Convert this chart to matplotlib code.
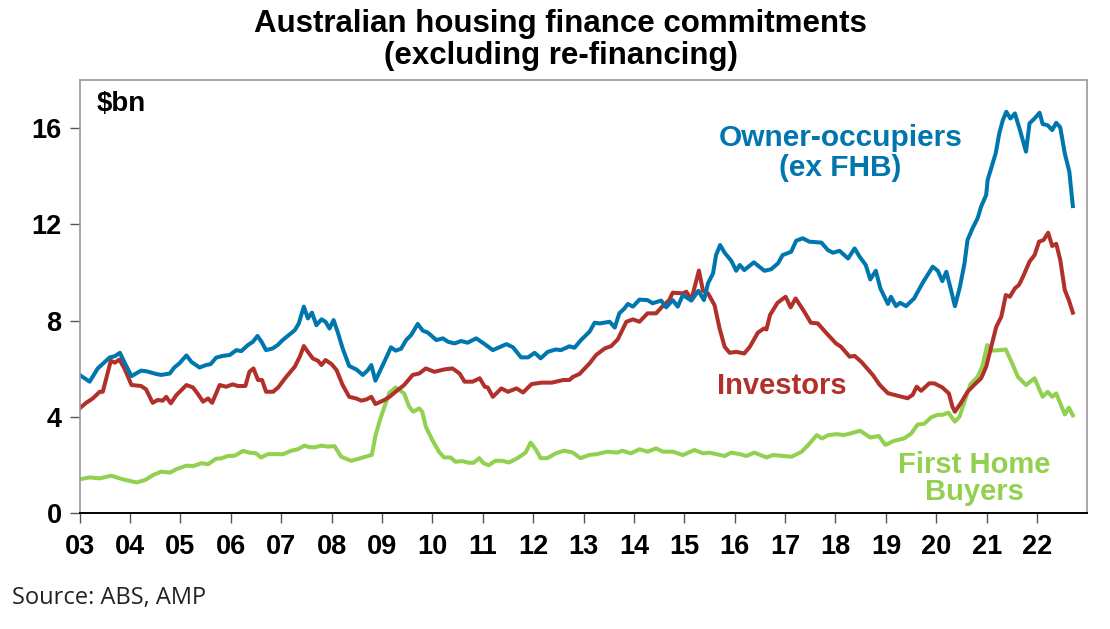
import matplotlib.pyplot as plt

# values, (decimal year, $bn)
owner = [
    (2003.0, 5.74), (2003.2, 5.46), (2003.36, 6.01), (2003.6, 6.47), (2003.7, 6.52), (2003.8, 6.66),
    (2003.9, 6.22), (2004.03, 5.69), (2004.22, 5.92), (2004.33, 5.89), (2004.52, 5.78), (2004.62, 5.74),
    (2004.79, 5.8), (2004.88, 6.05), (2004.98, 6.22), (2005.12, 6.55), (2005.22, 6.28), (2005.38, 6.05),
    (2005.51, 6.15), (2005.6, 6.19), (2005.71, 6.46), (2005.84, 6.53), (2005.98, 6.57), (2006.11, 6.77),
    (2006.21, 6.73), (2006.34, 6.98), (2006.44, 7.12), (2006.53, 7.36), (2006.61, 7.12), (2006.7, 6.77),
    (2006.83, 6.84), (2006.93, 6.98), (2007.03, 7.19), (2007.13, 7.36), (2007.27, 7.6), (2007.35, 7.88),
    (2007.45, 8.58), (2007.53, 8.09), (2007.61, 8.33), (2007.7, 7.81), (2007.8, 8.05), (2007.88, 7.95),
    (2007.96, 7.67), (2008.04, 8.02), (2008.13, 7.47), (2008.22, 6.84), (2008.35, 6.11), (2008.49, 5.97),
    (2008.62, 5.74), (2008.72, 5.94), (2008.79, 6.15), (2008.87, 5.5), (2009.05, 6.3), (2009.18, 6.89),
    (2009.27, 6.75), (2009.38, 6.83), (2009.48, 7.19), (2009.58, 7.4), (2009.71, 7.86), (2009.81, 7.58),
    (2009.91, 7.5), (2010.08, 7.19), (2010.21, 7.26), (2010.31, 7.12), (2010.44, 7.05), (2010.57, 7.15),
    (2010.7, 7.08), (2010.87, 7.26), (2011.04, 7.02), (2011.2, 6.77), (2011.33, 6.89), (2011.47, 7.02),
    (2011.6, 6.89), (2011.76, 6.47), (2011.9, 6.47), (2012.03, 6.66), (2012.15, 6.43), (2012.29, 6.7),
    (2012.45, 6.8), (2012.55, 6.77), (2012.72, 6.93), (2012.82, 6.87), (2012.95, 7.19), (2013.12, 7.54),
    (2013.22, 7.91), (2013.32, 7.88), (2013.52, 7.95), (2013.62, 7.71), (2013.71, 8.3), (2013.81, 8.5),
    (2013.88, 8.69), (2013.98, 8.58), (2014.11, 8.87), (2014.27, 8.85), (2014.37, 8.72), (2014.54, 8.83),
    (2014.64, 8.55), (2014.77, 8.85), (2014.87, 8.58), (2014.97, 9.06), (2015.14, 8.83), (2015.28, 9.24),
    (2015.39, 8.85), (2015.47, 9.55), (2015.57, 9.96), (2015.63, 10.72), (2015.71, 11.14), (2015.8, 10.82),
    (2015.93, 10.49), (2016.03, 10.07), (2016.1, 10.31), (2016.19, 10.1), (2016.38, 10.42), (2016.59, 10.07),
    (2016.72, 10.13), (2016.86, 10.38), (2016.95, 10.72), (2017.12, 10.86), (2017.22, 11.32), (2017.35, 11.42),
    (2017.48, 11.28), (2017.72, 11.24), (2017.85, 10.93), (2017.95, 10.82), (2018.08, 10.9), (2018.25, 10.58),
    (2018.38, 11.0), (2018.48, 10.65), (2018.6, 10.31), (2018.69, 9.71), (2018.8, 10.07), (2018.89, 9.34),
    (2019.04, 8.69), (2019.1, 8.99), (2019.2, 8.6), (2019.28, 8.74), (2019.4, 8.6), (2019.56, 8.92),
    (2019.73, 9.57), (2019.93, 10.24), (2020.03, 10.07), (2020.12, 9.64), (2020.2, 10.03), (2020.3, 9.2),
    (2020.37, 8.6), (2020.47, 9.41), (2020.56, 10.38), (2020.62, 11.35), (2020.72, 11.84), (2020.82, 12.25),
    (2020.89, 12.74), (2020.99, 13.22), (2021.02, 13.85), (2021.09, 14.33), (2021.18, 14.96), (2021.25, 15.78),
    (2021.32, 16.33), (2021.39, 16.68), (2021.47, 16.4), (2021.56, 16.61), (2021.66, 15.92), (2021.78, 15.02),
    (2021.85, 16.2), (2021.95, 16.4), (2022.05, 16.64), (2022.11, 16.17), (2022.21, 16.12), (2022.3, 15.92),
    (2022.38, 16.22), (2022.46, 16.03), (2022.55, 14.95), (2022.64, 14.19), (2022.71, 12.76),
]

investors = [
    (2003.0, 4.35), (2003.13, 4.58), (2003.26, 4.76), (2003.4, 5.04), (2003.46, 5.04), (2003.62, 6.33),
    (2003.7, 6.25), (2003.79, 6.38), (2003.89, 6.01), (2004.03, 5.32), (2004.22, 5.28), (2004.32, 5.14),
    (2004.45, 4.58), (2004.55, 4.7), (2004.65, 4.67), (2004.72, 4.83), (2004.81, 4.56), (2004.92, 4.9),
    (2005.12, 5.32), (2005.25, 5.22), (2005.35, 4.94), (2005.45, 4.63), (2005.55, 4.76), (2005.63, 4.58),
    (2005.78, 5.32), (2005.91, 5.25), (2006.04, 5.35), (2006.14, 5.28), (2006.29, 5.28), (2006.37, 5.87),
    (2006.45, 6.01), (2006.54, 5.53), (2006.62, 5.53), (2006.7, 5.04), (2006.84, 5.04), (2006.94, 5.22),
    (2007.1, 5.66), (2007.27, 6.08), (2007.37, 6.5), (2007.45, 6.94), (2007.53, 6.7), (2007.63, 6.42),
    (2007.73, 6.33), (2007.8, 6.15), (2007.88, 6.36), (2008.0, 6.19), (2008.1, 5.94), (2008.22, 5.32),
    (2008.35, 4.83), (2008.49, 4.76), (2008.59, 4.67), (2008.69, 4.72), (2008.79, 4.83), (2008.87, 4.53),
    (2009.05, 4.7), (2009.15, 4.83), (2009.27, 5.04), (2009.44, 5.32), (2009.61, 5.74), (2009.74, 5.8),
    (2009.87, 6.01), (2010.04, 5.87), (2010.24, 5.97), (2010.4, 6.01), (2010.54, 5.8), (2010.64, 5.46),
    (2010.8, 5.46), (2010.94, 5.6), (2011.04, 5.25), (2011.1, 5.22), (2011.2, 4.83), (2011.37, 5.18),
    (2011.5, 5.04), (2011.67, 5.18), (2011.8, 5.01), (2011.97, 5.36), (2012.17, 5.42), (2012.37, 5.42),
    (2012.6, 5.53), (2012.72, 5.53), (2012.79, 5.66), (2012.92, 5.78), (2013.12, 6.22), (2013.25, 6.57),
    (2013.42, 6.84), (2013.55, 6.94), (2013.68, 7.22), (2013.85, 7.95), (2013.98, 8.05), (2014.11, 7.95),
    (2014.27, 8.3), (2014.44, 8.3), (2014.57, 8.6), (2014.7, 8.85), (2014.77, 9.16), (2014.97, 9.13),
    (2015.04, 9.2), (2015.14, 8.87), (2015.29, 10.08), (2015.37, 9.24), (2015.47, 9.13), (2015.6, 8.64),
    (2015.7, 7.67), (2015.8, 6.91), (2015.9, 6.66), (2016.03, 6.7), (2016.19, 6.63), (2016.3, 6.91),
    (2016.46, 7.5), (2016.58, 7.67), (2016.63, 7.63), (2016.7, 8.23), (2016.85, 8.74), (2017.01, 8.99),
    (2017.11, 8.55), (2017.21, 8.92), (2017.38, 8.37), (2017.51, 7.91), (2017.65, 7.88), (2017.81, 7.5),
    (2018.01, 7.05), (2018.11, 6.91), (2018.28, 6.5), (2018.38, 6.53), (2018.51, 6.29), (2018.74, 5.74),
    (2018.88, 5.32), (2019.04, 4.98), (2019.24, 4.87), (2019.43, 4.77), (2019.53, 4.91), (2019.61, 5.25),
    (2019.7, 5.08), (2019.86, 5.39), (2019.96, 5.39), (2020.12, 5.22), (2020.25, 4.97), (2020.32, 4.42),
    (2020.37, 4.21), (2020.49, 4.58), (2020.62, 5.04), (2020.75, 5.32), (2020.89, 5.6), (2020.99, 6.08),
    (2021.09, 6.91), (2021.19, 7.74), (2021.29, 8.16), (2021.38, 9.06), (2021.46, 8.99), (2021.56, 9.34),
    (2021.64, 9.48), (2021.72, 9.82), (2021.85, 10.45), (2021.95, 10.72), (2022.04, 11.28), (2022.13, 11.35),
    (2022.22, 11.65), (2022.3, 11.1), (2022.38, 11.19), (2022.46, 10.52), (2022.55, 9.27), (2022.63, 8.85),
    (2022.71, 8.33),
]

first_home = [
    (2003.0, 1.4), (2003.2, 1.48), (2003.4, 1.44), (2003.63, 1.55), (2003.86, 1.4), (2004.13, 1.27),
    (2004.3, 1.37), (2004.46, 1.58), (2004.62, 1.72), (2004.79, 1.68), (2004.92, 1.82), (2005.12, 1.97),
    (2005.25, 1.95), (2005.42, 2.07), (2005.55, 2.03), (2005.71, 2.26), (2005.81, 2.27), (2005.94, 2.37),
    (2006.08, 2.38), (2006.24, 2.58), (2006.37, 2.51), (2006.5, 2.48), (2006.6, 2.31), (2006.74, 2.45),
    (2006.87, 2.45), (2007.03, 2.44), (2007.2, 2.59), (2007.33, 2.65), (2007.46, 2.8), (2007.56, 2.74),
    (2007.66, 2.73), (2007.8, 2.8), (2007.93, 2.76), (2008.06, 2.78), (2008.19, 2.34), (2008.39, 2.17),
    (2008.56, 2.27), (2008.8, 2.42), (2008.87, 3.2), (2008.96, 3.87), (2009.05, 4.42), (2009.15, 5.0),
    (2009.27, 5.22), (2009.35, 5.11), (2009.44, 4.97), (2009.54, 4.42), (2009.62, 4.21), (2009.74, 4.35),
    (2009.8, 4.21), (2009.87, 3.59), (2010.0, 3.03), (2010.13, 2.55), (2010.23, 2.31), (2010.36, 2.31),
    (2010.46, 2.13), (2010.59, 2.16), (2010.72, 2.09), (2010.82, 2.09), (2010.93, 2.28), (2011.02, 2.06),
    (2011.12, 1.99), (2011.25, 2.17), (2011.39, 2.17), (2011.52, 2.1), (2011.69, 2.28), (2011.85, 2.51),
    (2011.95, 2.93), (2012.05, 2.65), (2012.15, 2.28), (2012.28, 2.28), (2012.45, 2.48), (2012.61, 2.59),
    (2012.78, 2.52), (2012.94, 2.28), (2013.11, 2.41), (2013.27, 2.45), (2013.47, 2.55), (2013.67, 2.51),
    (2013.77, 2.59), (2013.94, 2.48), (2014.11, 2.65), (2014.27, 2.55), (2014.44, 2.69), (2014.57, 2.55),
    (2014.77, 2.55), (2014.97, 2.41), (2015.2, 2.62), (2015.37, 2.48), (2015.5, 2.51), (2015.63, 2.45),
    (2015.8, 2.37), (2015.93, 2.51), (2016.1, 2.45), (2016.23, 2.37), (2016.39, 2.51), (2016.63, 2.31),
    (2016.76, 2.41), (2016.96, 2.37), (2017.13, 2.34), (2017.33, 2.55), (2017.46, 2.83), (2017.63, 3.24),
    (2017.73, 3.1), (2017.86, 3.24), (2018.03, 3.28), (2018.16, 3.24), (2018.3, 3.31), (2018.49, 3.42),
    (2018.69, 3.14), (2018.86, 3.2), (2018.99, 2.83), (2019.16, 3.0), (2019.36, 3.1), (2019.5, 3.3),
    (2019.63, 3.68), (2019.76, 3.71), (2019.9, 3.98), (2020.03, 4.08), (2020.12, 4.08), (2020.24, 4.17),
    (2020.37, 3.8), (2020.46, 4.0), (2020.58, 4.76), (2020.68, 5.36), (2020.82, 5.66), (2020.91, 6.08),
    (2021.01, 6.98), (2021.13, 6.75), (2021.25, 6.77), (2021.38, 6.8), (2021.49, 6.29), (2021.62, 5.66),
    (2021.78, 5.32), (2021.95, 5.6), (2022.11, 4.83), (2022.21, 5.04), (2022.3, 4.83), (2022.38, 4.97),
    (2022.55, 4.1), (2022.63, 4.38), (2022.71, 4.06),
]

years = list(range(2003, 2023))
year_labels = [f"{y % 100:02d}" for y in years]
y_ticks = [0, 4, 8, 12, 16]

BLUE = "#0076AE"
RED = "#B1302A"
GREEN = "#92D050"

plt.rcParams["font.family"] = ["Liberation Sans", "DejaVu Sans"]

fig = plt.figure(figsize=(11.1, 6.29), dpi=100)
ax = fig.add_axes([0.0717, 0.1844, 0.9080, 0.6884])

for data, color in [(first_home, GREEN), (investors, RED), (owner, BLUE)]:
    xs, vs = zip(*data)
    ax.plot(xs, vs, color=color, lw=2.9, solid_joinstyle="round")

ax.set_xlim(2003, 2023)
ax.set_ylim(0, 18)
ax.set_xticks(years)
ax.set_xticklabels(year_labels, fontsize=19.5, fontweight="bold")
ax.set_yticks(y_ticks)
ax.set_yticklabels([str(t) for t in y_ticks], fontsize=19.5, fontweight="bold")
ax.tick_params(axis="x", length=7, width=1, pad=8, color="#555555")
ax.tick_params(axis="y", length=7, width=1, pad=6, color="#555555")

for side in ["top", "right", "left"]:
    ax.spines[side].set_color("#999999")
    ax.spines[side].set_linewidth(1.2)
ax.spines["bottom"].set_color("black")
ax.spines["bottom"].set_linewidth(1.4)

ax.text(2003.33, 17.0, "$bn", fontsize=20, fontweight="bold", va="center", ha="left")
ax.text(2018.1, 14.95, "Owner-occupiers\n(ex FHB)", color=BLUE, fontsize=21.5,
        fontweight="bold", ha="center", va="center", linespacing=1.08)
ax.text(2016.93, 5.3, "Investors", color=RED, fontsize=21, fontweight="bold",
        ha="center", va="center")
ax.text(2020.76, 1.45, "First Home\nBuyers", color=GREEN, fontsize=21, fontweight="bold",
        ha="center", va="center", linespacing=0.95)

fig.text(0.505, 0.937, "Australian housing finance commitments\n(excluding re-financing)",
         fontsize=22.5, fontweight="bold", ha="center", va="center", linespacing=1.08)
fig.text(0.011, 0.049, "Source: ABS, AMP", fontsize=17, ha="left", va="center",
         family=["Open Sans", "DejaVu Sans"], color="#222222")

fig.savefig("out.png", dpi=100)
